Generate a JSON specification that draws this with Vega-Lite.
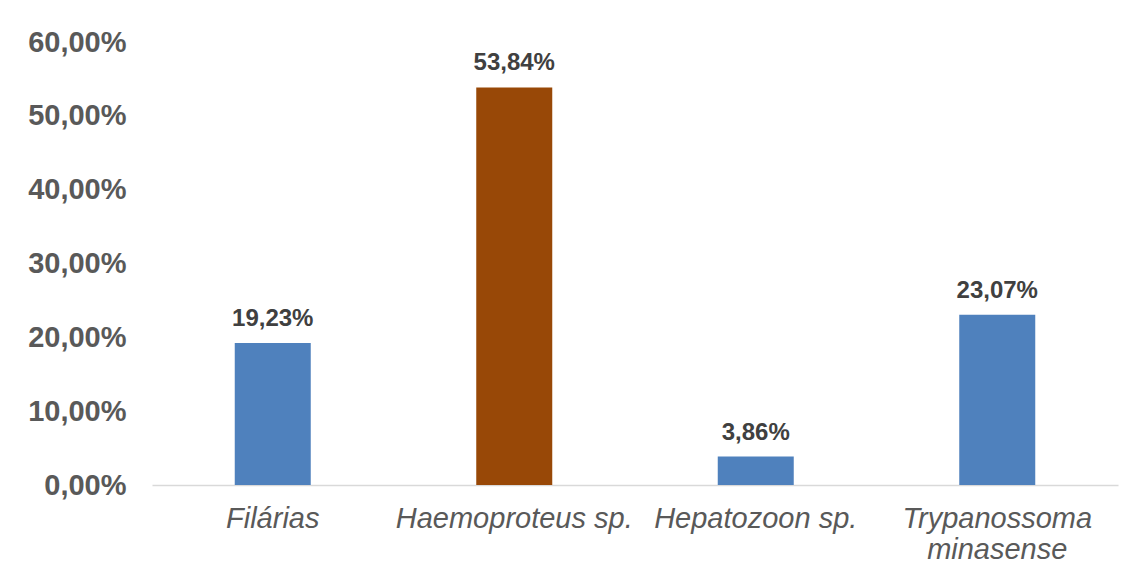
{
  "$schema": "https://vega.github.io/schema/vega-lite/v6.json",
  "width": 966,
  "height": 443,
  "autosize": "none",
  "padding": {"left": 152, "top": 42, "right": 16, "bottom": 93},
  "background": "white",
  "config": {
    "view": {"stroke": null},
    "font": "Liberation Sans",
    "locale": {"number": {"decimal": ",", "thousands": ".", "grouping": [3], "currency": ["", ""]}}
  },
  "data": {
    "values": [
      {"parasita": "Filárias", "valor": 0.1923, "grupo": "a"},
      {"parasita": "Haemoproteus sp.", "valor": 0.5384, "grupo": "b"},
      {"parasita": "Hepatozoon sp.", "valor": 0.0386, "grupo": "a"},
      {"parasita": "Trypanossoma minasense", "valor": 0.2307, "grupo": "a"}
    ]
  },
  "encoding": {
    "x": {
      "field": "parasita",
      "type": "nominal",
      "sort": null,
      "scale": {"padding": 0},
      "axis": {
        "title": null,
        "labelAngle": 0,
        "labelFont": "Liberation Sans",
        "labelFontStyle": "italic",
        "labelFontSize": 29,
        "labelColor": "#595959",
        "labelPadding": 19,
        "labelLineHeight": 31,
        "labelExpr": "datum.value == 'Trypanossoma minasense' ? ['Trypanossoma', 'minasense'] : datum.value",
        "ticks": false,
        "domainColor": "#d9d9d9",
        "domainWidth": 1.5,
        "labelLimit": 400
      }
    },
    "y": {
      "field": "valor",
      "type": "quantitative",
      "scale": {"domain": [0, 0.6], "nice": false},
      "axis": {
        "title": null,
        "values": [0, 0.1, 0.2, 0.3, 0.4, 0.5, 0.6],
        "format": ".2%",
        "grid": false,
        "domain": false,
        "ticks": false,
        "labelFont": "Liberation Sans",
        "labelFontWeight": "bold",
        "labelFontSize": 29,
        "labelColor": "#595959",
        "labelPadding": 26
      }
    }
  },
  "layer": [
    {
      "mark": {"type": "bar", "size": 76},
      "encoding": {
        "color": {
          "field": "grupo",
          "type": "nominal",
          "scale": {"domain": ["a", "b"], "range": ["#4f81bd", "#984807"]},
          "legend": null
        }
      }
    },
    {
      "mark": {"type": "text", "baseline": "alphabetic", "dy": -17, "font": "Liberation Sans", "fontWeight": "bold", "fontSize": 24, "color": "#404040"},
      "encoding": {
        "text": {"field": "valor", "type": "quantitative", "format": ".2%"}
      }
    }
  ]
}
